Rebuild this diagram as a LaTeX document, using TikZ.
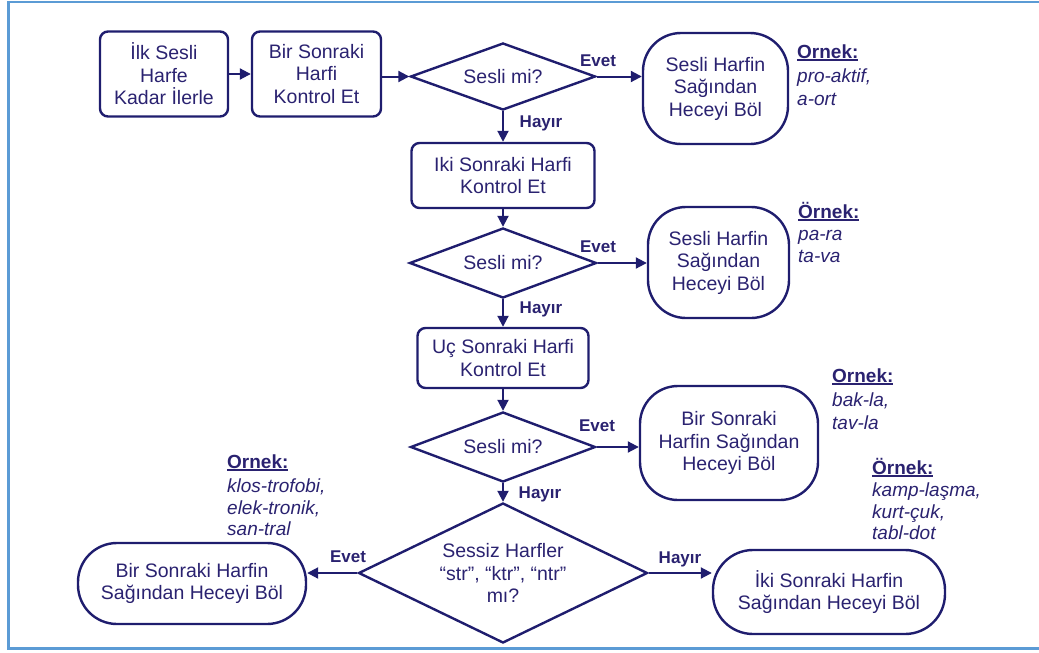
\documentclass[tikz,border=0pt]{standalone}
\usepackage{fontspec}
\setmainfont{Liberation Sans}
\usetikzlibrary{shapes.geometric,arrows.meta}
\definecolor{lc}{RGB}{31,29,110}
\definecolor{tc}{RGB}{42,34,112}
\definecolor{fb}{RGB}{91,155,213}
\newcommand\mainf{\fontsize{19.5}{22.5}\selectfont}
\newcommand\labf{\fontsize{17}{20}\selectfont\bfseries}
\newcommand\exhf{\fontsize{19}{22}\selectfont\bfseries}
\newcommand\exlf{\fontsize{19}{22}\selectfont\itshape}
\newcommand\ornk[1]{\setbox0\hbox{#1}\rlap{\rule[-3pt]{\wd0}{1.6pt}}\box0}
\begin{document}
\begin{tikzpicture}[x=1pt,y=-1pt,
  box/.style={draw=lc, line width=2.4pt, rounded corners=8pt, text=tc, align=center, inner sep=0pt, font=\mainf},
  term/.style={box, rounded corners=38pt},
  dec/.style={diamond, draw=lc, line width=2.4pt, text=tc, align=center, inner sep=0pt, aspect=2.7, font=\mainf},
  arr/.style={draw=lc, line width=2pt, -{Triangle[length=11pt,width=11pt]}},
  lab/.style={text=tc, font=\labf, anchor=base, inner sep=0pt},
  exh/.style={text=tc, font=\exhf, anchor=base west, inner sep=0pt},
  exl/.style={text=tc, font=\exlf, anchor=base west, inner sep=0pt}]
\useasboundingbox (0,0) rectangle (1039,653);
\draw[fb, line width=2.6pt] (1050,2) -- (8.7,2) -- (8.7,648.5) -- (1050,648.5);

% nodes
\node[box, minimum width=128pt, minimum height=85pt] (b1) at (164,74) {İlk Sesli\\Harfe\\Kadar İlerle};
\node[box, minimum width=129pt, minimum height=85pt] (b2) at (316.5,74) {Bir Sonraki\\Harfi\\Kontrol Et};
\node[dec, minimum width=185pt, minimum height=67pt] (d1) at (503,76.5) {Sesli mi?};
\node[term, minimum width=145pt, minimum height=111pt] (t1) at (715.5,88.5) {Sesli Harfin\\Sağından\\Heceyi Böl};
\node[box, minimum width=183pt, minimum height=65pt] (b3) at (503,175.5) {Iki Sonraki Harfi\\Kontrol Et};
\node[dec, minimum width=187pt, minimum height=70pt] (d2) at (503,263) {Sesli mi?};
\node[term, minimum width=141pt, minimum height=111pt] (t2) at (718.5,262.5) {Sesli Harfin\\Sağından\\Heceyi Böl};
\node[box, minimum width=171pt, minimum height=60pt] (b4) at (503,358) {Uç Sonraki Harfi\\Kontrol Et};
\node[dec, minimum width=185pt, minimum height=70pt] (d3) at (503,447) {Sesli mi?};
\node[term, minimum width=178pt, minimum height=114pt] (t3) at (729,443) {Bir Sonraki\\Harfin Sağından\\Heceyi Böl};
\node[dec, aspect=2, minimum width=289pt, minimum height=140pt] (d4) at (503,573) {Sessiz Harfler\\“str”, “ktr”, “ntr”\\mı?};
\node[term, rounded corners=39pt, minimum width=228pt, minimum height=81pt] (t6) at (192,583.5) {Bir Sonraki Harfin\\Sağından Heceyi Böl};
\node[term, rounded corners=40pt, minimum width=232pt, minimum height=84pt] (t5) at (829,592) {İki Sonraki Harfin\\Sağından Heceyi Böl};

% connectors
\draw[arr] (b1) -- (b2);
\draw[arr] (b2.east |- d1.west) -- (d1.west);
\draw[arr] (d1.east) -- (d1.east -| t1.west);
\draw[arr] (d1.south) -- (b3.north);
\draw[arr] (b3.south) -- (d2.north);
\draw[arr] (d2.east) -- (d2.east -| t2.west);
\draw[arr] (d2.south) -- (b4.north);
\draw[arr] (b4.south) -- (d3.north);
\draw[arr] (d3.east) -- (d3.east -| t3.west);
\draw[arr] (d3.south) -- (d4.north);
\draw[arr] (d4.west) -- (d4.west -| t6.east);
\draw[arr] (d4.east) -- (d4.east -| t5.west);

% labels
\node[lab] (l1) at (598,66) {Evet};
\node[lab] (l2) at (541,127) {Hayır};
\node[lab] (l3) at (598,252) {Evet};
\node[lab] (l4) at (541,313) {Hayır};
\node[lab] (l5) at (597,431) {Evet};
\node[lab] (l6) at (540,498) {Hayır};
\node[lab] (l7) at (348,562) {Evet};
\node[lab] (l8) at (680,563) {Hayır};

% examples
\node[exh] (e1h) at (797,58) {\ornk{Ornek:}};
\node[exl] (e1a) at (797,82) {pro-aktif,};
\node[exl] (e1b) at (797,105) {a-ort};
\node[exh] (e2h) at (798,218) {\ornk{Örnek:}};
\node[exl] (e2a) at (798,240) {pa-ra};
\node[exl] (e2b) at (798,262) {ta-va};
\node[exh] (e3h) at (832,382) {\ornk{Ornek:}};
\node[exl] (e3a) at (832,406) {bak-la,};
\node[exl] (e3b) at (832,429) {tav-la};
\node[exh] (e4h) at (872,474) {\ornk{Örnek:}};
\node[exl] (e4a) at (872,496) {kamp-laşma,};
\node[exl] (e4b) at (872,518) {kurt-çuk,};
\node[exl] (e4c) at (872,539) {tabl-dot};
\node[exh] (e5h) at (227,468) {\ornk{Ornek:}};
\node[exl] (e5a) at (227,492) {klos-trofobi,};
\node[exl] (e5b) at (227,514) {elek-tronik,};
\node[exl] (e5c) at (227,535) {san-tral};
\end{tikzpicture}
\end{document}
